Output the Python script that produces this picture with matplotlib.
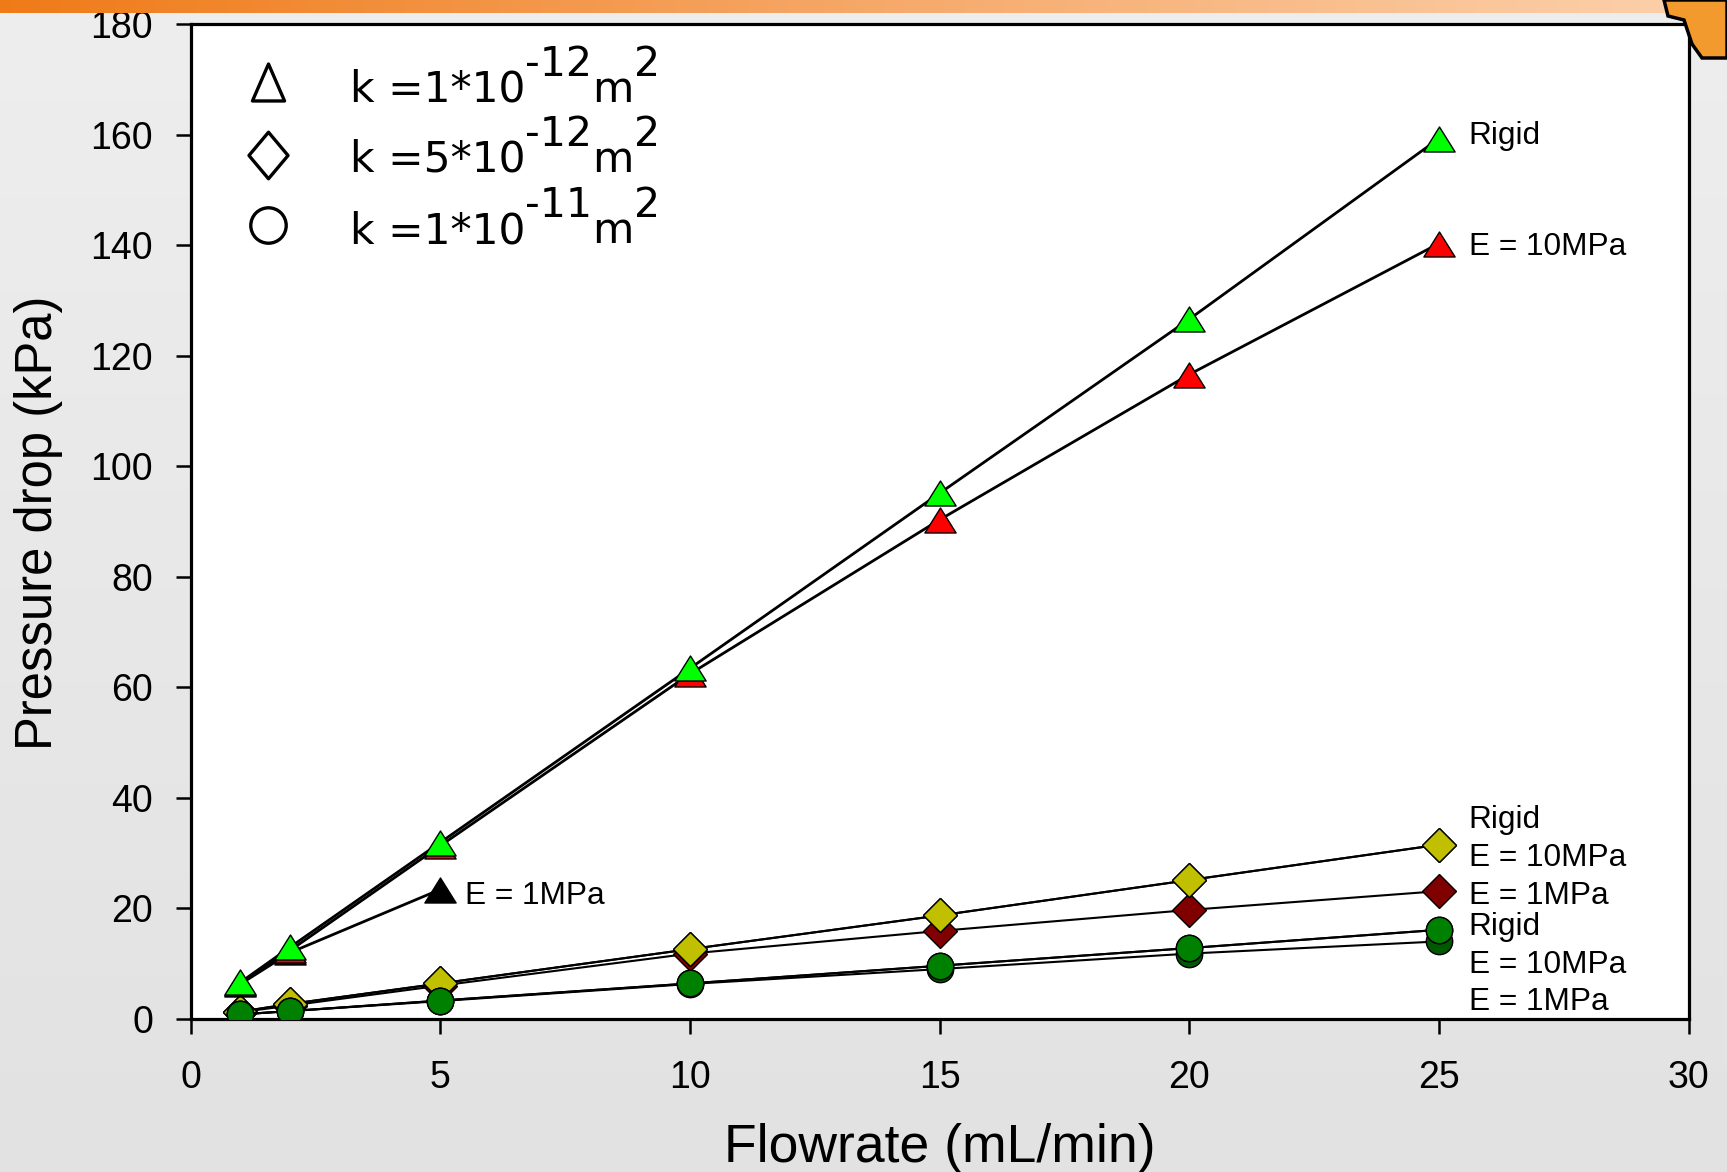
import matplotlib
matplotlib.use('Agg')
import matplotlib.pyplot as plt
import numpy as np
from matplotlib.path import Path
from matplotlib.transforms import IdentityTransform
from matplotlib.colors import LinearSegmentedColormap
from matplotlib.patches import Polygon

plt.rcParams['font.family'] = ['Liberation Sans', 'DejaVu Sans']

# ---------------- data ----------------
flow = [1, 2, 5, 10, 15, 20, 25]
flow_e1_tri = [1, 2, 5]

tri_rigid = [6.6, 13.0, 31.9, 63.4, 95.1, 126.6, 159.3]
tri_e10 = [6.4, 12.4, 31.3, 62.4, 90.3, 116.6, 140.3]
tri_e1 = [6.3, 12.0, 23.4]

dia_rigid = [1.3, 2.7, 6.4, 12.6, 18.7, 25.1, 31.5]
dia_e10 = [1.3, 2.7, 6.4, 12.6, 18.7, 25.1, 31.5]
dia_e1 = [1.2, 2.4, 6.0, 11.8, 15.9, 19.7, 23.1]

cir_rigid = [0.8, 1.4, 3.3, 6.4, 9.6, 12.8, 16.1]
cir_e10 = [0.8, 1.4, 3.3, 6.4, 9.6, 12.8, 16.1]
cir_e1 = [0.8, 1.4, 3.2, 6.3, 9.0, 11.8, 14.0]

xticks = [0, 5, 10, 15, 20, 25, 30]
yticks = [0, 20, 40, 60, 80, 100, 120, 140, 160, 180]

xlabel = 'Flowrate (mL/min)'
ylabel = 'Pressure drop (kPa)'

# labels: (text, x, y)
point_labels = [
    ('Rigid', 25.6, 158.4),
    ('E = 10MPa', 25.6, 138.2),
    ('E = 1MPa', 5.5, 20.8),
    ('Rigid', 25.6, 34.5),
    ('E = 10MPa', 25.6, 27.65),
    ('E = 1MPa', 25.6, 20.7),
    ('Rigid', 25.6, 15.2),
    ('E = 10MPa', 25.6, 8.35),
    ('E = 1MPa', 25.6, 1.6),
]

legend_rows = [
    ('k =1*10', '-12'),
    ('k =5*10', '-12'),
    ('k =1*10', '-11'),
]

# ---------------- figure ----------------
W, H = 1727, 1172
fig = plt.figure(figsize=(W / 100, H / 100), dpi=100)
fig.patch.set_facecolor('#e8e8e8')

bg = fig.add_axes([0, 0, 1, 1], zorder=-10)
bg.axis('off')
bg.imshow(np.linspace(0, 1, 256).reshape(-1, 1),
          cmap=LinearSegmentedColormap.from_list('bg', ['#eeeeee', '#e2e2e2']),
          aspect='auto', extent=[0, 1, 0, 1])

ax = fig.add_axes([190.5 / W, 153.2 / H, 1498 / W, 994.6 / H])
ax.set_facecolor('white')

tri_path = Path([(0, 0.8), (-1, -0.8), (1, -0.8), (0, 0)],
                [Path.MOVETO, Path.LINETO, Path.LINETO, Path.CLOSEPOLY])

# diamonds
for yv, col in [(dia_e1, '#800000'), (dia_e10, '#c8a000'), (dia_rigid, '#c0c000')]:
    ax.plot(flow, yv, color='black', lw=1.5, marker='D', ms=17,
            mfc=col, mec='black', mew=1.0, zorder=3)
# circles
for yv, col in [(cir_e1, '#005800'), (cir_e10, '#007000'), (cir_rigid, '#008000')]:
    ax.plot(flow, yv, color='black', lw=1.5, marker='o', ms=19,
            mfc=col, mec='black', mew=1.0, zorder=4)
# triangles
ax.plot(flow_e1_tri, tri_e1, color='black', lw=2.0, marker=tri_path, ms=22.5,
        mfc='black', mec='black', mew=1.0, zorder=5)
ax.plot(flow, tri_e10, color='black', lw=2.0, marker=tri_path, ms=22.5,
        mfc='#ff0000', mec='black', mew=1.0, zorder=5)
ax.plot(flow, tri_rigid, color='black', lw=2.0, marker=tri_path, ms=22.5,
        mfc='#00ff00', mec='black', mew=1.0, zorder=5)

for txt, xx, yy in point_labels:
    ax.text(xx, yy, txt, fontsize=22.8, ha='left', va='baseline', zorder=6)

ax.set_xlim(0, 30)
ax.set_ylim(0, 180)
ax.set_xticks(xticks)
ax.set_yticks(yticks)
ax.tick_params(direction='out', length=11, width=1.8, labelsize=27, colors='black')
ax.tick_params(axis='x', pad=19)
ax.tick_params(axis='y', pad=16)
for sp in ax.spines.values():
    sp.set_linewidth(2.3)
    sp.set_color('black')

fig.text(939.5 / W, (H - 1162) / H, xlabel, fontsize=38.5, ha='center', va='baseline')
fig.text(14 / W, (H - 523) / H, ylabel, fontsize=36.5, rotation=90, ha='left', va='center')

# legend-like key
open_tri = Path([(0, 1), (-0.87, -1), (0.87, -1), (0, 0)],
                [Path.MOVETO, Path.LINETO, Path.LINETO, Path.CLOSEPOLY])
open_dia = Path([(0, 1), (0.84, 0), (0, -1), (-0.84, 0), (0, 0)],
                [Path.MOVETO, Path.LINETO, Path.LINETO, Path.LINETO, Path.CLOSEPOLY])
key_markers = [(open_tri, 26.6, 0.9422), (open_dia, 33.5, 0.8685), ('o', 25.5, 0.7981)]
for mk, ms, yy in key_markers:
    ax.plot([0.0515], [yy], transform=ax.transAxes, marker=mk, ms=ms,
            mfc='white', mec='black', mew=2.4, ls='none', clip_on=False, zorder=7)

fig.canvas.draw()
renderer = fig.canvas.get_renderer()
row_base = [0.9221, 0.8517, 0.780]
key_font = ['DejaVu Sans']
for (base, sup), yb in zip(legend_rows, row_base):
    x0, y0 = ax.transAxes.transform((0.1063, yb))
    x = x0
    for s, size, dy in [(base, 30.5, 0), (sup, 29.5, 26), ('m', 30.5, 0), ('2', 29.5, 26)]:
        t = fig.text(x, y0 + dy, s, fontsize=size, family=key_font,
                     transform=IdentityTransform(),
                     ha='left', va='baseline', zorder=8)
        bb = t.get_window_extent(renderer=renderer)
        x = bb.x1

# top orange bar
bar = fig.add_axes([0, 1 - 13 / H, 1, 13 / H], zorder=20)
bar.axis('off')
bar.imshow(np.linspace(0, 1, 256).reshape(1, -1),
           cmap=LinearSegmentedColormap.from_list('bar', ['#ef7b18', '#f6a868', '#fcd2ae']),
           aspect='auto', extent=[0, 1, 0, 1])

# logo fragment at top-right
logo = Polygon([(1664, H), (W, H), (W, H - 58), (1702, H - 58), (1692, H - 44),
                (1684, H - 20), (1668, H - 16)],
               closed=True, transform=IdentityTransform(), facecolor='#f39a2e',
               edgecolor='black', lw=2.5, zorder=30)
fig.patches.append(logo)

fig.savefig('out.png', dpi=100)
